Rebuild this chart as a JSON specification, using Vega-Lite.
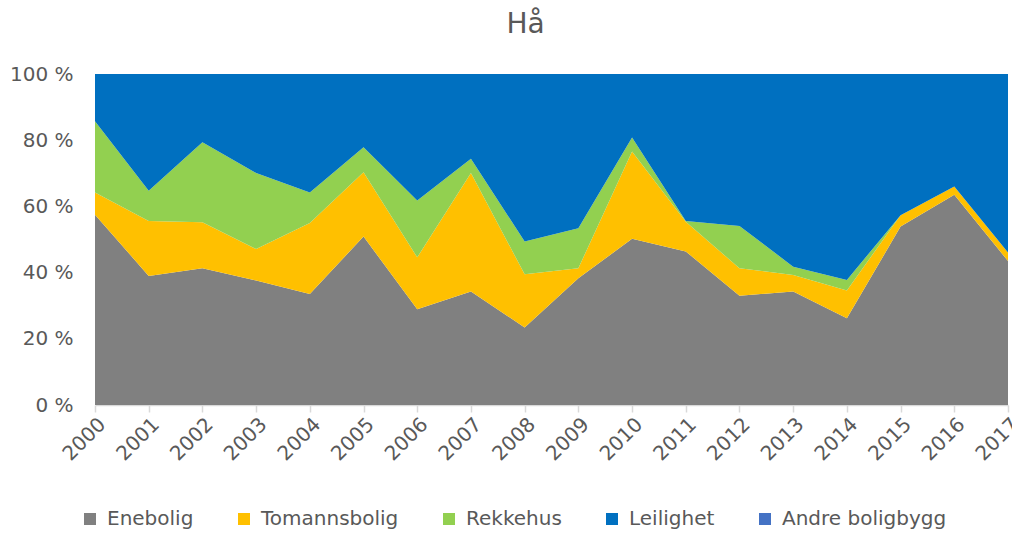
{
  "$schema": "https://vega.github.io/schema/vega-lite/v6.json",
  "autosize": "none",
  "width": 913,
  "height": 331,
  "padding": {"left": 95, "top": 74, "right": 4, "bottom": 128},
  "background": "white",
  "config": {"view": {"stroke": null}, "font": "DejaVu Sans"},
  "title": {"text": "Hå", "fontSize": 28, "fontWeight": "normal", "color": "#595959", "dx": -26, "offset": 25, "font": "DejaVu Sans"},
  "data": {"values": [
    {"year": "2000", "type": "Enebolig", "share": 57.5}, {"year": "2000", "type": "Tomannsbolig", "share": 6.7}, {"year": "2000", "type": "Rekkehus", "share": 21.5}, {"year": "2000", "type": "Leilighet", "share": 14.3}, {"year": "2000", "type": "Andre boligbygg", "share": 0},
    {"year": "2001", "type": "Enebolig", "share": 39.0}, {"year": "2001", "type": "Tomannsbolig", "share": 16.6}, {"year": "2001", "type": "Rekkehus", "share": 9.1}, {"year": "2001", "type": "Leilighet", "share": 35.3}, {"year": "2001", "type": "Andre boligbygg", "share": 0},
    {"year": "2002", "type": "Enebolig", "share": 41.3}, {"year": "2002", "type": "Tomannsbolig", "share": 13.9}, {"year": "2002", "type": "Rekkehus", "share": 24.2}, {"year": "2002", "type": "Leilighet", "share": 20.6}, {"year": "2002", "type": "Andre boligbygg", "share": 0},
    {"year": "2003", "type": "Enebolig", "share": 37.6}, {"year": "2003", "type": "Tomannsbolig", "share": 9.5}, {"year": "2003", "type": "Rekkehus", "share": 23.0}, {"year": "2003", "type": "Leilighet", "share": 29.9}, {"year": "2003", "type": "Andre boligbygg", "share": 0},
    {"year": "2004", "type": "Enebolig", "share": 33.5}, {"year": "2004", "type": "Tomannsbolig", "share": 21.5}, {"year": "2004", "type": "Rekkehus", "share": 9.2}, {"year": "2004", "type": "Leilighet", "share": 35.8}, {"year": "2004", "type": "Andre boligbygg", "share": 0},
    {"year": "2005", "type": "Enebolig", "share": 50.9}, {"year": "2005", "type": "Tomannsbolig", "share": 19.4}, {"year": "2005", "type": "Rekkehus", "share": 7.6}, {"year": "2005", "type": "Leilighet", "share": 22.1}, {"year": "2005", "type": "Andre boligbygg", "share": 0},
    {"year": "2006", "type": "Enebolig", "share": 28.9}, {"year": "2006", "type": "Tomannsbolig", "share": 15.7}, {"year": "2006", "type": "Rekkehus", "share": 17.2}, {"year": "2006", "type": "Leilighet", "share": 38.2}, {"year": "2006", "type": "Andre boligbygg", "share": 0},
    {"year": "2007", "type": "Enebolig", "share": 34.3}, {"year": "2007", "type": "Tomannsbolig", "share": 35.8}, {"year": "2007", "type": "Rekkehus", "share": 4.3}, {"year": "2007", "type": "Leilighet", "share": 25.6}, {"year": "2007", "type": "Andre boligbygg", "share": 0},
    {"year": "2008", "type": "Enebolig", "share": 23.4}, {"year": "2008", "type": "Tomannsbolig", "share": 16.1}, {"year": "2008", "type": "Rekkehus", "share": 9.9}, {"year": "2008", "type": "Leilighet", "share": 50.6}, {"year": "2008", "type": "Andre boligbygg", "share": 0},
    {"year": "2009", "type": "Enebolig", "share": 38.3}, {"year": "2009", "type": "Tomannsbolig", "share": 3.0}, {"year": "2009", "type": "Rekkehus", "share": 12.1}, {"year": "2009", "type": "Leilighet", "share": 46.6}, {"year": "2009", "type": "Andre boligbygg", "share": 0},
    {"year": "2010", "type": "Enebolig", "share": 50.2}, {"year": "2010", "type": "Tomannsbolig", "share": 26.4}, {"year": "2010", "type": "Rekkehus", "share": 4.2}, {"year": "2010", "type": "Leilighet", "share": 19.2}, {"year": "2010", "type": "Andre boligbygg", "share": 0},
    {"year": "2011", "type": "Enebolig", "share": 46.4}, {"year": "2011", "type": "Tomannsbolig", "share": 9.0}, {"year": "2011", "type": "Rekkehus", "share": 0.2}, {"year": "2011", "type": "Leilighet", "share": 44.4}, {"year": "2011", "type": "Andre boligbygg", "share": 0},
    {"year": "2012", "type": "Enebolig", "share": 33.0}, {"year": "2012", "type": "Tomannsbolig", "share": 8.3}, {"year": "2012", "type": "Rekkehus", "share": 12.8}, {"year": "2012", "type": "Leilighet", "share": 45.9}, {"year": "2012", "type": "Andre boligbygg", "share": 0},
    {"year": "2013", "type": "Enebolig", "share": 34.3}, {"year": "2013", "type": "Tomannsbolig", "share": 5.0}, {"year": "2013", "type": "Rekkehus", "share": 2.5}, {"year": "2013", "type": "Leilighet", "share": 58.2}, {"year": "2013", "type": "Andre boligbygg", "share": 0},
    {"year": "2014", "type": "Enebolig", "share": 26.2}, {"year": "2014", "type": "Tomannsbolig", "share": 8.4}, {"year": "2014", "type": "Rekkehus", "share": 3.2}, {"year": "2014", "type": "Leilighet", "share": 62.2}, {"year": "2014", "type": "Andre boligbygg", "share": 0},
    {"year": "2015", "type": "Enebolig", "share": 53.9}, {"year": "2015", "type": "Tomannsbolig", "share": 3.4}, {"year": "2015", "type": "Rekkehus", "share": 0.0}, {"year": "2015", "type": "Leilighet", "share": 42.7}, {"year": "2015", "type": "Andre boligbygg", "share": 0},
    {"year": "2016", "type": "Enebolig", "share": 63.5}, {"year": "2016", "type": "Tomannsbolig", "share": 2.5}, {"year": "2016", "type": "Rekkehus", "share": 0.0}, {"year": "2016", "type": "Leilighet", "share": 34.0}, {"year": "2016", "type": "Andre boligbygg", "share": 0},
    {"year": "2017", "type": "Enebolig", "share": 43.5}, {"year": "2017", "type": "Tomannsbolig", "share": 2.6}, {"year": "2017", "type": "Rekkehus", "share": 0.0}, {"year": "2017", "type": "Leilighet", "share": 53.9}, {"year": "2017", "type": "Andre boligbygg", "share": 0}
  ]},
  "transform": [
    {"calculate": "indexof(['Enebolig', 'Tomannsbolig', 'Rekkehus', 'Leilighet', 'Andre boligbygg'], datum.type)", "as": "stackOrder"}
  ],
  "mark": {"type": "area", "interpolate": "linear"},
  "encoding": {
    "x": {"field": "year", "type": "ordinal", "scale": {"type": "point", "padding": 0},
      "axis": {"title": null, "labelAngle": -45, "labelAlign": "right", "labelBaseline": "top", "labelFontSize": 20, "labelColor": "#595959", "labelPadding": 2,
        "domainColor": "#D9D9D9", "domainWidth": 1.5, "tickColor": "#D9D9D9", "tickSize": 7, "tickWidth": 1.5, "grid": false}},
    "y": {"field": "share", "type": "quantitative", "stack": "normalize",
      "scale": {"domain": [0, 1]},
      "axis": {"title": null, "values": [0, 0.2, 0.4, 0.6, 0.8, 1], "labelExpr": "round(datum.value*100) + ' %'", "labelFontSize": 20, "labelColor": "#595959", "labelPadding": 22, "domain": false, "ticks": false, "grid": false}},
    "order": {"field": "stackOrder", "type": "quantitative", "sort": "ascending"},
    "color": {"field": "type", "type": "nominal",
      "sort": ["Enebolig", "Tomannsbolig", "Rekkehus", "Leilighet", "Andre boligbygg"],
      "scale": {"domain": ["Enebolig", "Tomannsbolig", "Rekkehus", "Leilighet", "Andre boligbygg"], "range": ["#808080", "#FFC000", "#92D050", "#0070C0", "#4472C4"]},
      "legend": {"title": null, "orient": "none", "direction": "horizontal", "legendX": -15, "legendY": 435, "symbolType": "square", "symbolSize": 144, "symbolStrokeWidth": 0, "labelFontSize": 20, "labelColor": "#595959", "labelLimit": 300, "columnPadding": 40, "labelOffset": 7}}
  }
}
